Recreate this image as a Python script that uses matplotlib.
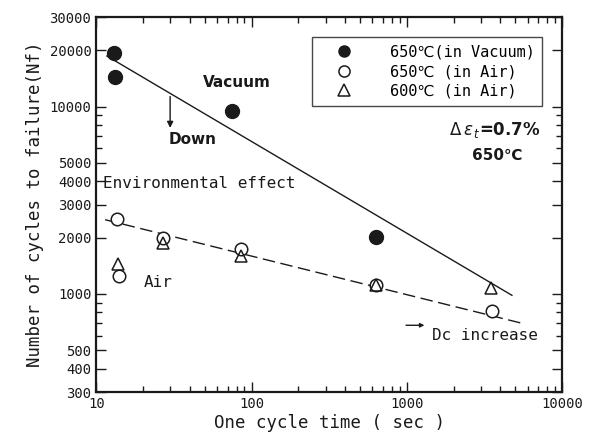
import matplotlib
matplotlib.use('Agg')
import matplotlib.pyplot as plt
from matplotlib.ticker import FixedLocator, NullFormatter
from matplotlib.lines import Line2D

# Data (cycle time in sec, cycles to failure Nf)
vac_t = [13.1, 13.2, 74.8, 632]
vac_nf = [19200, 14400, 9490, 2010]

air650_t = [13.6, 14.1, 27.0, 86, 632, 3510]
air650_nf = [2520, 1240, 1980, 1730, 1110, 808]

air600_t = [13.9, 27.0, 86, 632, 3480]
air600_nf = [1450, 1880, 1600, 1120, 1076]

# fitted trend lines (end points)
vac_fit_t = [11.7, 4750]
vac_fit_nf = [18600, 984]
air_fit_t = [11.4, 5510]
air_fit_nf = [2490, 698]

xticks = [10, 100, 1000, 10000]
yticks = [300, 400, 500, 1000, 2000, 3000, 4000, 5000, 10000, 20000, 30000]

mono = ['DejaVu Sans Mono', 'DejaVu Sans', 'Noto Sans CJK JP']
ink = '#1a1a1a'

fig = plt.figure(figsize=(5.98, 4.38), dpi=100)
ax = fig.add_axes([0.161, 0.105, 0.779, 0.856])

ax.set_xscale('log')
ax.set_yscale('log')
ax.set_xlim(10, 10000)
ax.set_ylim(300, 30000)

ax.plot(vac_fit_t, vac_fit_nf, '-', color=ink, lw=1.0)
ax.plot(air_fit_t, air_fit_nf, '--', color=ink, lw=1.0, dashes=(9, 4))

ax.plot(vac_t, vac_nf, 'o', ms=10, color=ink, ls='none')
ax.plot(air650_t, air650_nf, 'o', ms=9, mfc='white', mec=ink, mew=1.1, ls='none')
ax.plot(air600_t, air600_nf, '^', ms=9, mfc='none', mec=ink, mew=1.1, ls='none')

# ticks
ax.xaxis.set_major_locator(FixedLocator(xticks))
ax.set_xticklabels([str(v) for v in xticks], fontfamily=mono, fontsize=10)
ax.yaxis.set_major_locator(FixedLocator(yticks))
ax.set_yticklabels([str(v) for v in yticks], fontfamily=mono, fontsize=10)
ax.yaxis.set_minor_locator(FixedLocator([600, 700, 800, 900, 6000, 7000, 8000, 9000]))
ax.yaxis.set_minor_formatter(NullFormatter())
ax.tick_params(which='major', direction='in', length=7, width=1.0, top=True, right=True, colors=ink)
ax.tick_params(which='minor', direction='in', length=4, width=1.0, top=True, right=True, colors=ink)
for s in ax.spines.values():
    s.set_linewidth(1.6)
    s.set_color(ink)

ax.set_xlabel('One cycle time ( sec )', fontfamily=mono, fontsize=12.5, color=ink, labelpad=2)
ax.set_ylabel('Number of cycles to failure(Nf)', fontfamily=mono, fontsize=12.5, color=ink, labelpad=4)

# annotations
ax.text(80.9, 13400, 'Vacuum', ha='center', va='center', fontsize=11, fontweight='bold', color=ink)
ax.annotate('', xy=(29.9, 7430), xytext=(29.9, 11700),
            arrowprops=dict(arrowstyle='-|>', color=ink, lw=1.0, mutation_scale=9))
ax.text(41.5, 6650, 'Down', ha='center', va='center', fontsize=11, fontweight='bold', color=ink)
ax.text(11.1, 3870, 'Environmental effect', ha='left', va='center', fontfamily=mono, fontsize=11.5, color=ink)
ax.text(25.1, 1150, 'Air', ha='center', va='center', fontfamily=mono, fontsize=11.5, color=ink)
ax.annotate('', xy=(1352, 681), xytext=(948, 681),
            arrowprops=dict(arrowstyle='-|>', color=ink, lw=1.0, mutation_scale=6))
ax.text(1460, 603, 'Dc increase', ha='left', va='center', fontfamily=mono, fontsize=11.5, color=ink)
ax.text(0.953, 0.699, r'$\Delta\,\epsilon_{\,t}$=0.7%', transform=ax.transAxes, ha='right', va='center',
        fontsize=12, fontweight='bold', color=ink)
ax.text(0.861, 0.632, '650℃', transform=ax.transAxes, ha='center', va='center',
        fontsize=11, fontweight='bold', color=ink)

handles = [
    Line2D([], [], marker='o', ls='none', ms=8, color=ink),
    Line2D([], [], marker='o', ls='none', ms=8, mfc='white', mec=ink, mew=1.1),
    Line2D([], [], marker='^', ls='none', ms=8, mfc='none', mec=ink, mew=1.1),
]
labels = ['650℃(in Vacuum)', '650℃ (in Air)', '600℃ (in Air)']
leg = ax.legend(handles, labels, loc='upper right', bbox_to_anchor=(0.957, 0.947),
                prop={'family': mono, 'size': 11}, frameon=True, fancybox=False,
                edgecolor=ink, handletextpad=1.4, labelspacing=0.3, borderpad=0.5,
                handlelength=3.2, borderaxespad=0)
leg.get_frame().set_linewidth(1.0)

fig.savefig('out.png', dpi=100)
